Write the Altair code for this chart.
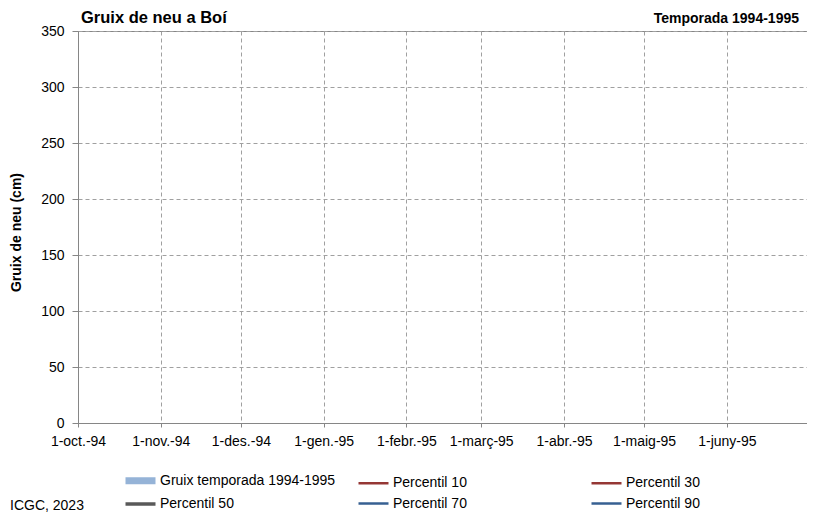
import json
import pandas as pd
import altair as alt

FONT = "Liberation Sans"

# ---- texts ----
title_text = "Gruix de neu a Boí"
season_text = "Temporada 1994-1995"
source_text = "ICGC, 2023"
y_title = "Gruix de neu (cm)"

# ---- series (legend entries) ----
series_names = ["Gruix temporada 1994-1995", "Percentil 10", "Percentil 30",
                "Percentil 50", "Percentil 70", "Percentil 90"]
series_colors = ["#95b3d7", "#953735", "#953735", "#595959", "#376092", "#376092"]
series_widths = [7, 2.5, 2.5, 3.5, 2.5, 2.5]

# ---- data: the reference shows no plotted values for this season ----
dates = []
gruix_values = []
p10_values = []
p30_values = []
p50_values = []
p70_values = []
p90_values = []

# ---- axes ----
x_domain = ["1994-10-01", "1995-07-01"]
tick_dates = ["1994-10-01", "1994-11-01", "1994-12-01", "1995-01-01", "1995-02-01",
              "1995-03-01", "1995-04-01", "1995-05-01", "1995-06-01"]
tick_labels = ["1-oct.-94", "1-nov.-94", "1-des.-94", "1-gen.-95", "1-febr.-95",
               "1-març-95", "1-abr.-95", "1-maig-95", "1-juny-95"]
y_ticks = [0, 50, 100, 150, 200, 250, 300, 350]


def dt(s):
    y, m, d = map(int, s.split("-"))
    return alt.DateTime(year=y, month=m, date=d, utc=True)


rows = []
for name, vals in zip(series_names, [gruix_values, p10_values, p30_values,
                                     p50_values, p70_values, p90_values]):
    for d, v in zip(dates, vals):
        rows.append({"date": d, "value": v, "series": name})
df = pd.DataFrame(rows, columns=["date", "value", "series"])

label_expr = (json.dumps(tick_labels, ensure_ascii=False)
              + "[(utcyear(datum.value)-1994)*12+utcmonth(datum.value)-9]")

legend_kw = dict(
    title=None, orient="none", legendX=52, legendY=439, columns=3,
    direction="horizontal", gridAlign="all", columnPadding=17, rowPadding=0,
    symbolType="M-2.143,0H2.143", symbolSize=196, labelFontSize=14, labelFont=FONT,
    labelColor="#000000", labelOffset=9, padding=0, labelLimit=0,
)

lines = alt.Chart(df).mark_line(clip=True).encode(
    x=alt.X(
        "date:T",
        scale=alt.Scale(type="utc", domain=[dt(x) for x in x_domain]),
        axis=alt.Axis(
            values=[dt(t) for t in tick_dates], labelExpr=label_expr, title=None,
            grid=True, gridDash=[4, 3], gridColor="#a0a0a0",
            domainColor="#868686", tickColor="#868686", tickSize=4,
            labelFontSize=14, labelFont=FONT, labelColor="#000000",
            labelPadding=7, labelOverlap=False, labelFlush=False,
        ),
    ),
    y=alt.Y(
        "value:Q",
        scale=alt.Scale(domain=[0, 350], nice=False),
        axis=alt.Axis(
            values=y_ticks, title=y_title, grid=True, gridDash=[4, 3],
            gridColor="#a0a0a0", domainColor="#868686", tickColor="#868686",
            tickSize=6, labelFontSize=14, labelFont=FONT, labelColor="#000000",
            labelPadding=8, titleFont=FONT, titleFontSize=14,
            titleFontWeight="bold", titleColor="#000000", titleX=-55, titleY=201,
        ),
    ),
    color=alt.Color("series:N", scale=alt.Scale(domain=series_names, range=series_colors),
                    legend=alt.Legend(**legend_kw)),
    strokeWidth=alt.StrokeWidth("series:N",
                                scale=alt.Scale(type="ordinal", domain=series_names,
                                                range=series_widths),
                                legend=alt.Legend(**legend_kw)),
)

title = alt.Chart(pd.DataFrame({"t": [title_text]})).mark_text(
    align="left", baseline="alphabetic", fontWeight="bold", fontSize=16.5,
    font=FONT, color="#000000"
).encode(text="t:N", x=alt.value(3), y=alt.value(-8))

season = alt.Chart(pd.DataFrame({"t": [season_text]})).mark_text(
    align="right", baseline="alphabetic", fontWeight="bold", fontSize=14,
    font=FONT, color="#000000"
).encode(text="t:N", x=alt.value(721), y=alt.value(-8))

source = alt.Chart(pd.DataFrame({"t": [source_text]})).mark_text(
    align="left", baseline="alphabetic", fontSize=14, font=FONT, color="#000000"
).encode(text="t:N", x=alt.value(-68), y=alt.value(479))

chart = alt.layer(lines, title, season, source).properties(
    width=729, height=392,
    padding={"left": 70, "top": 23, "right": 0, "bottom": 95},
    autosize=alt.AutoSizeParams(type="none"),
).configure_view(stroke="#868686", strokeWidth=1)

chart.save("out.html", embed_options={"renderer": "svg", "actions": False})
